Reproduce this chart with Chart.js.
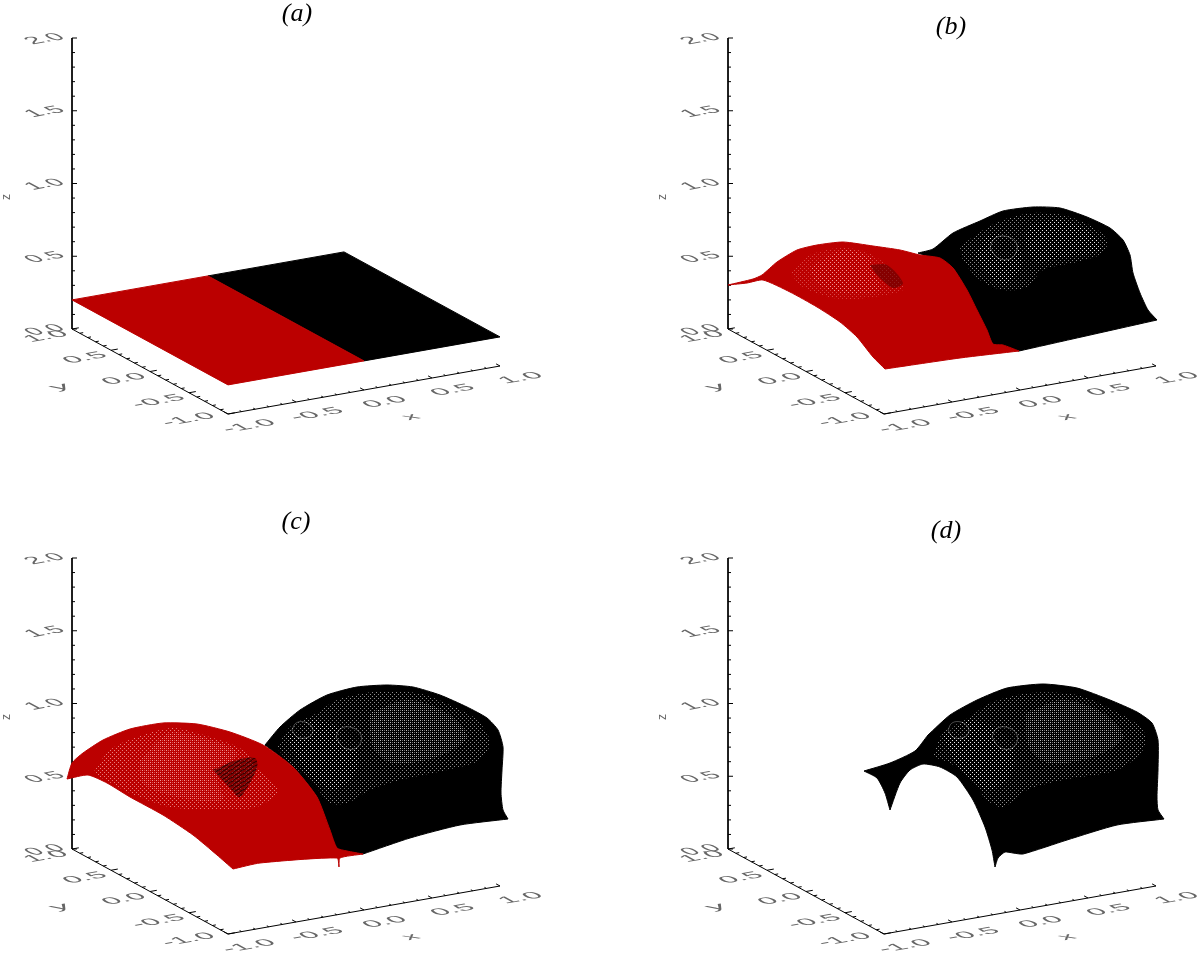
<!DOCTYPE html>
<html>
<head>
<meta charset="utf-8">
<title>Surface panels</title>
<script src="https://cdn.jsdelivr.net/npm/chart.js@4"></script>
<style>
  html, body { margin: 0; background: #fff; overflow: hidden; }
  canvas { position: absolute; }
</style>
</head>
<body>
<canvas id="panelA" style="left:0;top:0" width="544" height="453"></canvas>
<canvas id="panelB" style="left:656px;top:0" width="544" height="453"></canvas>
<canvas id="panelC" style="left:0;top:500px" width="544" height="453"></canvas>
<canvas id="panelD" style="left:656px;top:500px" width="544" height="453"></canvas>
<script>
// tick values and labels
const xyTicks = [-1, -0.5, 0, 0.5, 1];
const zTicks = [0, 0.5, 1, 1.5, 2];
const xTickLabels = ['-1.0', '-0.5', '0.0', '0.5', '1.0'];
const yTickLabels = ['-1.0', '-0.5', '0.0', '0.5', '1.0'];
const zTickLabels = ['0.0', '0.5', '1.0', '1.5', '2.0'];

// panel (a): flat sheet in x, y, z
const sheetRedX = [-1, 0, 0, -1];
const sheetBlackX = [0, 1, 1, 0];
const sheetY = [1, 1, -1, -1];
const sheetZ = 0.2;

// panels (b)-(d): outlines, in projected plot units from the foot of the z axis
const bRedU = [0, 25, 34, 49, 69, 89, 115, 145, 172, 192, 212, 225, 239, 249, 259, 265, 275, 291, 232, 157, 145, 129, 112, 89, 62, 35, 19];
const bRedV = [44, 50, 54, 67, 79, 84, 87, 83, 79, 74, 71, 61, 39, 19, -1, -15, -16, -22, -29, -40, -28, -8, 7, 22, 37, 49, 46];
const bRedCorners = [0, 17, 19];
const bBlackU = [190, 205, 225, 252, 275, 305, 332, 359, 382, 395, 402, 405, 412, 420, 429, 291, 265, 225];
const bBlackV = [76, 80, 96, 108, 118, 122, 121, 112, 101, 89, 74, 56, 36, 19, 9, -22, -15, 61];
const bBlackCorners = [14, 15];
const bBlackMeshU = [232, 252, 275, 305, 335, 365, 379, 375, 349, 315, 299, 275, 252, 235];
const bBlackMeshV = [82, 97, 109, 116, 114, 102, 89, 76, 67, 59, 42, 39, 49, 69];
const bInnerRightU = [302, 332, 362, 372, 332, 307, 297];
const bInnerRightV = [104, 109, 97, 79, 71, 67, 89];
const bInnerLeftU = [247, 262, 287, 294, 277, 257];
const bInnerLeftV = [74, 94, 89, 64, 44, 59];
const bRingU = [262, 266, 276, 287, 289, 282, 270];
const bRingV = [81, 90, 93, 88, 79, 70, 71];
const bRedMeshU = [62, 82, 115, 145, 172, 175, 139, 105, 75];
const bRedMeshV = [56, 74, 81, 74, 49, 39, 31, 31, 42];
const bRedInnerU = [82, 115, 142, 145, 152, 115, 89];
const bRedInnerV = [62, 79, 72, 60, 39, 36, 46];
const bDarkU = [142, 159, 175, 165, 149];
const bDarkV = [64, 64, 46, 41, 54];

const cRedU = [-5, 0, 11, 31, 58, 91, 125, 158, 191, 221, 245, 258, 265, 275, 291, 268, 267, 265, 188, 161, 145, 121, 91, 58, 35, 16];
const cRedV = [70, 86, 96, 109, 120, 126, 125, 117, 104, 82, 52, 19, 1, -2, -5, -9, -18, -9, -14, -20, -6, 14, 34, 52, 66, 74];
const cRedCorners = [0, 14, 16, 19];
const cBlackU = [193, 208, 228, 255, 285, 315, 341, 368, 395, 415, 426, 431, 430, 429, 431, 436, 388, 338, 291, 265, 245, 221];
const cBlackV = [104, 122, 139, 154, 162, 164, 162, 154, 142, 131, 119, 102, 79, 56, 39, 30, 24, 11, -5, 1, 52, 82];
const cBlackCorners = [15, 18];
const cBlackMeshU = [205, 218, 245, 265, 301, 345, 378, 405, 418, 408, 375, 328, 298, 275, 258, 241, 218];
const cBlackMeshV = [101, 122, 136, 149, 157, 156, 144, 129, 107, 89, 79, 69, 59, 46, 46, 66, 86];
const cRedMeshU = [21, 38, 65, 101, 138, 171, 185, 206, 185, 145, 98, 58];
const cRedMeshV = [76, 99, 112, 121, 112, 99, 82, 59, 42, 39, 42, 56];
const cRedInnerU = [68, 98, 138, 165, 145, 151, 105, 71];
const cRedInnerV = [89, 116, 109, 96, 72, 49, 52, 66];
const cDarkU = [141, 165, 183, 185, 168, 158];
const cDarkV = [79, 89, 91, 81, 52, 61];

// features of the black dome shared by (c) and (d)
const domeInnerRightU = [298, 335, 375, 395, 365, 321, 301];
const domeInnerRightV = [136, 149, 136, 112, 92, 86, 102];
const domeInnerLeftU = [215, 241, 281, 285, 261, 231];
const domeInnerLeftV = [112, 129, 112, 79, 59, 82];
const domeRing1U = [220, 224, 233, 240, 240, 234, 225];
const domeRing1V = [119, 126, 127, 122, 115, 111, 112];
const domeRing2U = [264, 268, 278, 288, 289, 282, 271];
const domeRing2V = [112, 120, 122, 116, 107, 100, 102];

const dBlackU = [136, 162, 187, 200, 222, 249, 279, 315, 349, 382, 409, 424, 430, 430, 429, 430, 436, 389, 339, 295, 285, 277, 270, 267, 264, 257, 245, 229, 212, 195, 182, 172, 162, 157, 149];
const dBlackV = [78, 86, 98, 114, 134, 149, 161, 165, 161, 149, 137, 126, 109, 79, 52, 39, 30, 24, 9, -5, -4, -3, -9, -18, -1, 22, 49, 72, 82, 85, 79, 66, 39, 56, 71];
const dBlackCorners = [0, 3, 16, 23, 32];
const dBlackMeshU = [205, 215, 242, 262, 302, 349, 385, 415, 415, 389, 335, 299, 275, 259, 242, 222];
const dBlackMeshV = [92, 116, 132, 146, 156, 154, 139, 119, 99, 79, 69, 59, 42, 49, 72, 86];

const RED = '#bb0000';
const BLACK = '#000000';

// oblique view used by all four panels
function project(x, y, z) {
  return {
    x: 136 * (x + 1) + 78 * (1 - y),
    y: 145.5 * z + 24 * (x + 1) - 42.5 * (1 - y)
  };
}

function dotPattern(color, dense) {
  const tile = document.createElement('canvas');
  tile.width = dense ? 2 : 4;
  tile.height = dense ? 2 : 4;
  const t = tile.getContext('2d');
  t.fillStyle = color;
  t.fillRect(0, 0, 1, 1);
  if (!dense) t.fillRect(2, 2, 1, 1);
  return t.createPattern(tile, 'repeat');
}

function stripePattern(color) {
  const tile = document.createElement('canvas');
  tile.width = 6;
  tile.height = 4;
  const t = tile.getContext('2d');
  t.strokeStyle = color;
  t.beginPath();
  t.moveTo(0, 3.5);
  t.lineTo(6, 0.5);
  t.stroke();
  return t.createPattern(tile, 'repeat');
}

// a repeated point keeps the curve sharp at a corner
function outline(us, vs, corners = []) {
  const pts = [];
  us.forEach((u, i) => {
    pts.push({ x: u, y: vs[i] });
    if (corners.includes(i)) pts.push({ x: u, y: vs[i] });
  });
  pts.push(pts[0]);
  return pts;
}

function sheet(xs) {
  const pts = xs.map((x, i) => project(x, sheetY[i], sheetZ));
  pts.push(pts[0]);
  return pts;
}

function surface(points, color, tension) {
  return { data: points, showLine: true, pointRadius: 0, fill: 'shape', tension: tension, backgroundColor: color, borderColor: color, borderWidth: 1 };
}

function overlay(points, fillStyle) {
  return { data: points, showLine: true, pointRadius: 0, fill: 'shape', tension: 0.3, backgroundColor: fillStyle, borderColor: 'rgba(0,0,0,0)', borderWidth: 1 };
}

function ring(points, edge) {
  return { data: points, showLine: true, pointRadius: 0, fill: 'shape', tension: 0.4, backgroundColor: 'rgba(0,0,0,0.35)', borderColor: edge, borderWidth: 1 };
}

// z, y and x axes with their ticks, broken by NaN points
function axesDataset() {
  const gap = { x: NaN, y: NaN };
  const pts = [project(-1, 1, 2), project(-1, 1, 0), project(-1, -1, 0), project(1, -1, 0), gap];
  for (let i = 0; i <= 20; i++) {
    const major = i % 5 === 0;
    const a = project(-1, 1, i / 10);
    pts.push(a, { x: a.x + (major ? 5 : 3), y: a.y }, gap);
  }
  for (let i = -10; i <= 10; i++) {
    const major = i % 5 === 0;
    const len = major ? 0.05 : 0.025;
    pts.push(project(-1, i / 10, 0), project(-1 + len, i / 10, 0), gap);
    pts.push(project(i / 10, -1, 0), project(i / 10, -1 + len, 0), gap);
  }
  return { data: pts, showLine: true, pointRadius: 0, borderColor: '#000', borderWidth: 1, fill: false };
}

// text lying on the floor plane of the plot
function floorText(ctx, text, px, py, align, sx, sy) {
  ctx.save();
  ctx.transform(0.985 * sx, -0.174 * sx, 0.878 * sy, 0.478 * sy, px, py);
  ctx.font = '10px "Liberation Sans"';
  ctx.textAlign = align;
  ctx.textBaseline = 'middle';
  ctx.fillStyle = '#666';
  ctx.fillText(text, 0, 0);
  ctx.restore();
}

function labelPlugin(title, titleU, titleV) {
  return {
    id: 'panelLabels',
    afterDatasetsDraw(chart) {
      const { ctx, scales } = chart;
      const X = scales.x, Y = scales.y;
      const at = p => ({ x: X.getPixelForValue(p.x), y: Y.getPixelForValue(p.y) });

      zTicks.forEach((z, i) => {
        const p = at(project(-1, 1, z));
        floorText(ctx, zTickLabels[i], p.x - 27, p.y + 1, 'center', 2.5, 1.9);
      });
      xyTicks.forEach((t, i) => {
        const p = at(project(-1, t, 0));
        floorText(ctx, yTickLabels[i], p.x - (i === 0 ? 15 : 6), p.y + (i === 0 ? 1 : 4), 'right', 2.9, 1.7);
        const q = at(project(t, -1, 0));
        floorText(ctx, xTickLabels[i], q.x + 21, q.y + 12, 'center', 2.9, 1.7);
      });

      const xName = at({ x: 339, y: -88 });
      floorText(ctx, 'x', xName.x, xName.y, 'center', 2.6, 1.6);
      const yName = at({ x: -12, y: -58 });
      floorText(ctx, 'y', yName.x, yName.y, 'center', 3.4, 1.6);

      const zName = at({ x: -65, y: 132 });
      ctx.save();
      ctx.translate(zName.x, zName.y);
      ctx.rotate(-Math.PI / 2);
      ctx.font = '12px "Liberation Sans"';
      ctx.textAlign = 'center';
      ctx.textBaseline = 'middle';
      ctx.fillStyle = '#666';
      ctx.fillText('z', 0, 0);
      ctx.restore();

      const t = at({ x: titleU, y: titleV });
      ctx.font = 'italic 26px "Liberation Serif"';
      ctx.textAlign = 'center';
      ctx.textBaseline = 'middle';
      ctx.fillStyle = '#000';
      ctx.fillText(title, t.x, t.y);
    }
  };
}

function makePanel(id, footY, title, titleU, titleV, layers) {
  // painter's order is given bottom first, Chart.js draws the first dataset last
  const datasets = [axesDataset()].concat(layers).reverse();
  new Chart(document.getElementById(id), {
    type: 'scatter',
    data: { datasets },
    options: {
      responsive: false,
      animation: false,
      devicePixelRatio: 1,
      layout: { padding: 0, autoPadding: false },
      plugins: { legend: { display: false }, tooltip: { enabled: false }, title: { display: false } },
      scales: {
        x: { type: 'linear', display: false, min: -72, max: 472 },
        y: { type: 'linear', display: false, min: footY - 453, max: footY }
      }
    },
    plugins: [labelPlugin(title, titleU, titleV)]
  });
}

const whiteFaint = dotPattern('rgba(255,255,255,0.55)', false);
const whiteMid = dotPattern('rgba(255,255,255,0.8)', false);
const whiteStrong = dotPattern('rgba(255,255,255,0.42)', true);
const pinkFaint = dotPattern('rgba(255,175,175,0.4)', false);
const pinkMid = dotPattern('rgba(255,190,190,0.65)', false);
const pinkStrong = dotPattern('rgba(255,190,190,0.38)', true);
const darkRed = 'rgba(90,0,0,0.55)';
const ringEdge = 'rgba(255,255,255,0.28)';

makePanel('panelA', 329, '(a)', 225, 315, [
  surface(sheet(sheetBlackX), BLACK, 0),
  surface(sheet(sheetRedX), RED, 0)
]);

makePanel('panelB', 329, '(b)', 223, 302, [
  surface(outline(bBlackU, bBlackV, bBlackCorners), BLACK, 0.2),
  overlay(outline(bBlackMeshU, bBlackMeshV), whiteFaint),
  overlay(outline(bInnerRightU, bInnerRightV), whiteMid),
  overlay(outline(bInnerLeftU, bInnerLeftV), whiteMid),
  ring(outline(bRingU, bRingV), ringEdge),
  surface(outline(bRedU, bRedV, bRedCorners), RED, 0.2),
  overlay(outline(bRedMeshU, bRedMeshV), pinkFaint),
  overlay(outline(bRedInnerU, bRedInnerV), pinkMid),
  overlay(outline(bDarkU, bDarkV), darkRed)
]);

makePanel('panelC', 349, '(c)', 224, 327, [
  surface(outline(cBlackU, cBlackV, cBlackCorners), BLACK, 0.2),
  overlay(outline(cBlackMeshU, cBlackMeshV), whiteFaint),
  overlay(outline(domeInnerRightU, domeInnerRightV), whiteStrong),
  overlay(outline(domeInnerLeftU, domeInnerLeftV), whiteMid),
  ring(outline(domeRing1U, domeRing1V), ringEdge),
  ring(outline(domeRing2U, domeRing2V), ringEdge),
  surface(outline(cRedU, cRedV, cRedCorners), RED, 0.2),
  overlay(outline(cRedMeshU, cRedMeshV), pinkMid),
  overlay(outline(cRedInnerU, cRedInnerV), pinkStrong),
  overlay(outline(cDarkU, cDarkV), darkRed),
  overlay(outline(cDarkU, cDarkV), stripePattern('rgba(0,0,0,0.75)'))
]);

makePanel('panelD', 349, '(d)', 218, 318, [
  surface(outline(dBlackU, dBlackV, dBlackCorners), BLACK, 0.2),
  overlay(outline(dBlackMeshU, dBlackMeshV), whiteFaint),
  overlay(outline(domeInnerRightU, domeInnerRightV), whiteStrong),
  overlay(outline(domeInnerLeftU, domeInnerLeftV), whiteMid),
  ring(outline(domeRing1U, domeRing1V), ringEdge),
  ring(outline(domeRing2U, domeRing2V), ringEdge)
]);
</script>
</body>
</html>
